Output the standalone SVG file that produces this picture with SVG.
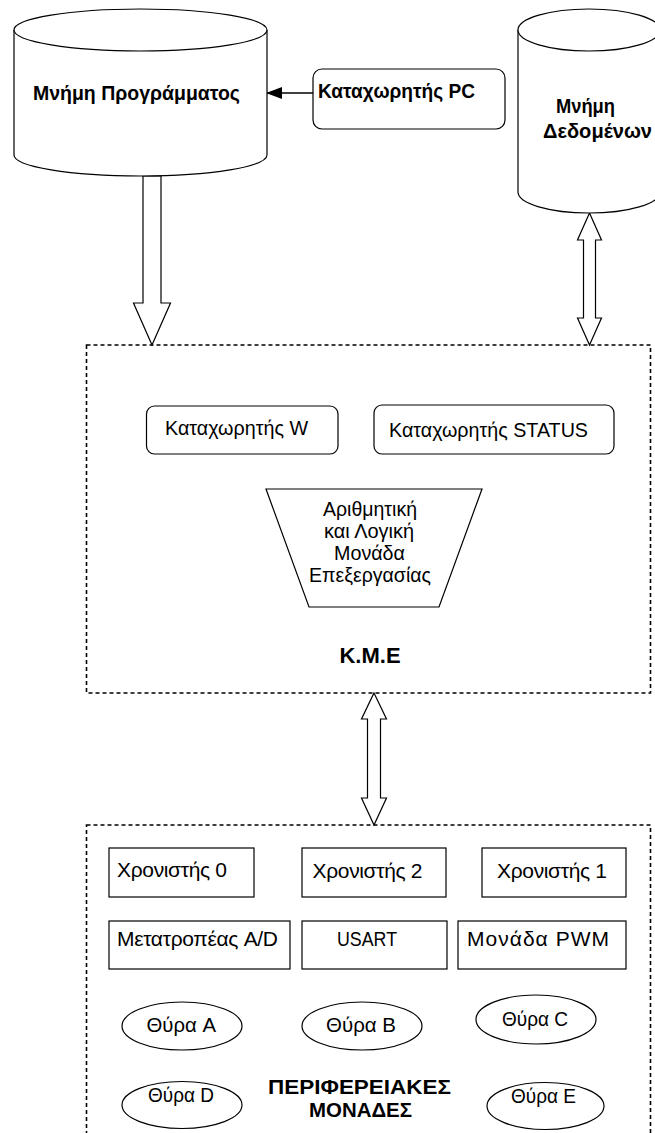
<svg xmlns="http://www.w3.org/2000/svg" width="655" height="1133" viewBox="0 0 655 1133">
  <style>
    .ln { fill: #fff; stroke: #000; stroke-width: 1.2; }
    .dash { fill: none; stroke: #000; stroke-width: 1.6; stroke-dasharray: 4 3; }
    .t { font-family: "Liberation Sans", Arial, Helvetica, sans-serif; font-size: 21px; fill: #000; }
    .b { font-family: "Liberation Sans", Arial, Helvetica, sans-serif; font-size: 21px; font-weight: bold; fill: #000; }
  </style>
  <defs>
    <marker id="head" viewBox="0 0 16 12" refX="15" refY="6" markerWidth="16" markerHeight="12" markerUnits="userSpaceOnUse" orient="auto">
      <path d="M0,0 L16,6 L0,12 Z" fill="#000"/>
    </marker>
  </defs>
  <rect width="655" height="1133" fill="#fff"/>

  <!-- CPU and peripherals frames -->
  <g id="kme">
    <rect class="dash" x="86.5" y="345" width="564" height="348"/>
    <text class="b" x="370" y="663" text-anchor="middle" style="font-size:22px">Κ.Μ.Ε</text>
  </g>
  <g id="peripherals">
    <rect class="dash" x="86.5" y="825" width="564" height="340"/>
    <text class="b" x="268" y="1094" textLength="183" lengthAdjust="spacingAndGlyphs">ΠΕΡΙΦΕΡΕΙΑΚΕΣ</text>
    <text class="b" x="309" y="1117" textLength="103" lengthAdjust="spacingAndGlyphs">ΜΟΝΑΔΕΣ</text>
  </g>

  <!-- bus connectors -->
  <g id="connectors">
    <polygon class="ln" points="143,176 161,176 161,303 170.5,303 152,345 133.5,303 143,303"/>
    <polygon class="ln" points="589.5,213 601.5,240 595.5,240 595.5,318 601.5,318 589.5,345 577.5,318 583.5,318 583.5,240 577.5,240"/>
    <polygon class="ln" points="374,693 386.5,719 380.5,719 380.5,798 386.5,798 374,825 361.5,798 367.5,798 367.5,719 361.5,719"/>
    <line x1="313" y1="93" x2="267" y2="93" stroke="#000" stroke-width="1.5" marker-end="url(#head)"/>
  </g>

  <!-- program memory -->
  <g id="program-memory">
    <path class="ln" d="M14,30 V155 A126.5,21 0 0 0 267,155 V30"/>
    <ellipse class="ln" cx="140.5" cy="30" rx="126.5" ry="21"/>
    <text class="b" x="33" y="100" textLength="207" lengthAdjust="spacingAndGlyphs">Μνήμη Προγράμματος</text>
  </g>

  <!-- program counter -->
  <g id="pc">
    <rect class="ln" x="313" y="69" width="192" height="60" rx="9"/>
    <text class="b" x="318" y="98" textLength="157" lengthAdjust="spacingAndGlyphs">Καταχωρητής PC</text>
  </g>

  <!-- data memory -->
  <g id="data-memory">
    <path class="ln" d="M518,30 V192 A71,21 0 0 0 660,192 V30"/>
    <ellipse class="ln" cx="589" cy="30" rx="71" ry="21"/>
    <text class="b" x="556" y="113" textLength="59" lengthAdjust="spacingAndGlyphs">Μνήμη</text>
    <text class="b" x="543" y="138" textLength="109" lengthAdjust="spacingAndGlyphs">Δεδομένων</text>
  </g>

  <!-- CPU internals -->
  <g id="reg-w">
    <rect class="ln" x="146.5" y="406" width="191.5" height="48" rx="8"/>
    <text class="t" x="165" y="435" textLength="143" lengthAdjust="spacingAndGlyphs">Καταχωρητής W</text>
  </g>
  <g id="reg-status">
    <rect class="ln" x="374" y="405" width="240" height="49" rx="8"/>
    <text class="t" x="389" y="437" textLength="199" lengthAdjust="spacingAndGlyphs">Καταχωρητής STATUS</text>
  </g>
  <g id="alu">
    <polygon class="ln" points="266,489 482,489 439,607 309,607"/>
    <text class="t" x="323" y="516" textLength="94" lengthAdjust="spacingAndGlyphs">Αριθμητική</text>
    <text class="t" x="324" y="538" textLength="90" lengthAdjust="spacingAndGlyphs">και Λογική</text>
    <text class="t" x="334" y="560" textLength="71" lengthAdjust="spacingAndGlyphs">Μονάδα</text>
    <text class="t" x="309" y="582" textLength="122" lengthAdjust="spacingAndGlyphs">Επεξεργασίας</text>
  </g>

  <!-- peripheral units -->
  <g id="timer0">
    <rect class="ln" x="109" y="848" width="145" height="49"/>
    <text class="t" x="117" y="877" textLength="110" lengthAdjust="spacing">Χρονιστής 0</text>
  </g>
  <g id="timer2">
    <rect class="ln" x="302" y="848" width="144" height="49"/>
    <text class="t" x="312.5" y="878" textLength="110" lengthAdjust="spacing">Χρονιστής 2</text>
  </g>
  <g id="timer1">
    <rect class="ln" x="482" y="848" width="144" height="49"/>
    <text class="t" x="497" y="878" textLength="110" lengthAdjust="spacing">Χρονιστής 1</text>
  </g>
  <g id="adc">
    <rect class="ln" x="109" y="921" width="181" height="48"/>
    <text class="t" x="117" y="946" textLength="161" lengthAdjust="spacing">Μετατροπέας A/D</text>
  </g>
  <g id="usart">
    <rect class="ln" x="302" y="921" width="145" height="48"/>
    <text class="t" x="337" y="946" textLength="60" lengthAdjust="spacingAndGlyphs">USART</text>
  </g>
  <g id="pwm">
    <rect class="ln" x="458" y="921" width="168" height="48"/>
    <text class="t" x="467" y="946" textLength="142" lengthAdjust="spacing">Μονάδα PWM</text>
  </g>
  <g id="port-a">
    <ellipse class="ln" cx="182" cy="1026" rx="60" ry="24"/>
    <text class="t" x="146.5" y="1032" textLength="69.5" lengthAdjust="spacingAndGlyphs">Θύρα A</text>
  </g>
  <g id="port-b">
    <ellipse class="ln" cx="362" cy="1026" rx="60" ry="24"/>
    <text class="t" x="326" y="1032" textLength="70" lengthAdjust="spacingAndGlyphs">Θύρα B</text>
  </g>
  <g id="port-c">
    <ellipse class="ln" cx="536" cy="1019.5" rx="60" ry="24.5"/>
    <text class="t" x="502" y="1026" textLength="66" lengthAdjust="spacingAndGlyphs">Θύρα C</text>
  </g>
  <g id="port-d">
    <ellipse class="ln" cx="182" cy="1105" rx="60" ry="23.5"/>
    <text class="t" x="148" y="1102" textLength="66" lengthAdjust="spacingAndGlyphs">Θύρα D</text>
  </g>
  <g id="port-e">
    <ellipse class="ln" cx="545.5" cy="1106" rx="58.5" ry="23.5"/>
    <text class="t" x="511" y="1103" textLength="65" lengthAdjust="spacingAndGlyphs">Θύρα E</text>
  </g>
</svg>
